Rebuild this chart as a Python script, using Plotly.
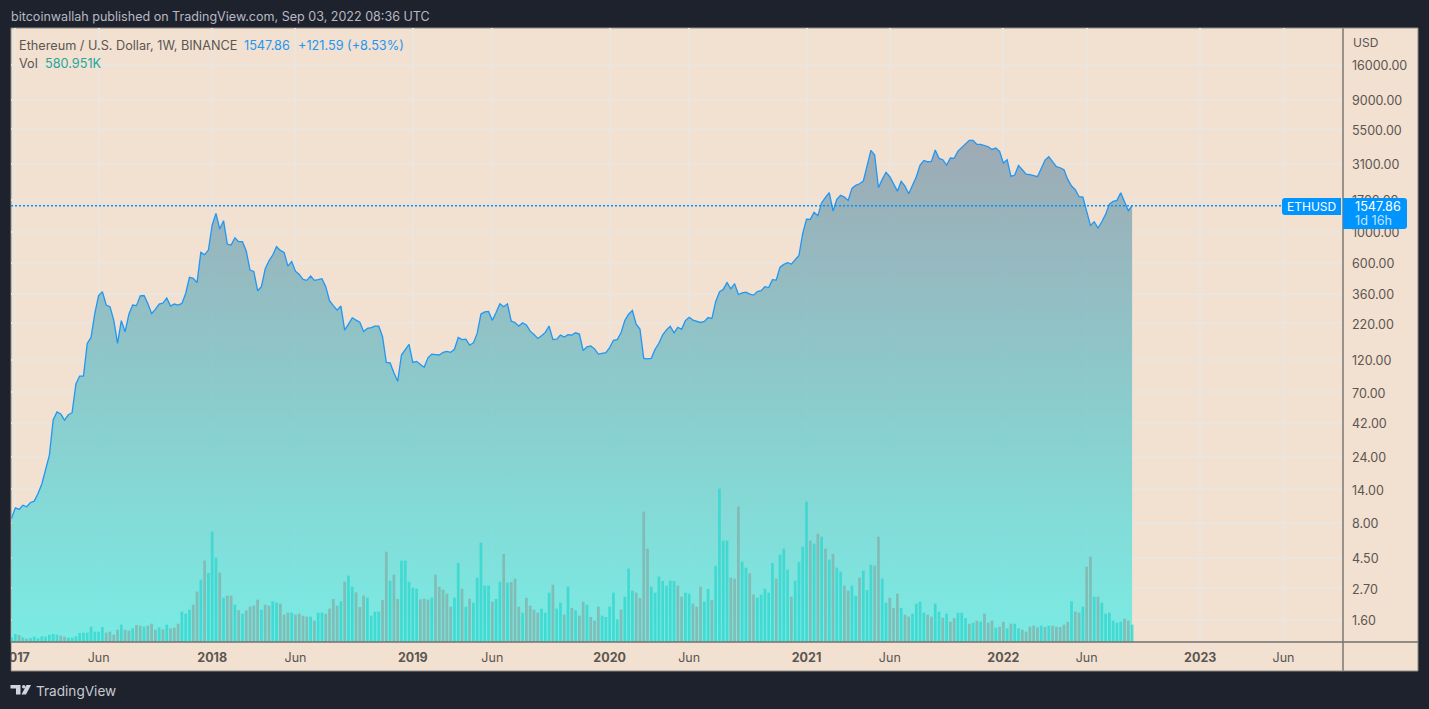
import pandas as pd
import plotly.graph_objects as go

# Weekly ETHUSD closes
close = [
    8.64, 10.3, 10.03, 10.75, 10.47, 11.25, 11.5, 13.07, 15.3, 19.3,
    24.7, 44.2, 50.5, 48.8, 44.2, 48.2, 49.9, 80.3, 91.7, 91.7,
    157.6, 174, 259, 348, 372, 298, 290, 232, 157.6, 230,
    191, 256, 298, 295, 347, 349, 306, 259, 277, 303,
    308, 335, 293, 303, 298, 306, 361, 472, 464, 432,
    714, 687, 742, 1124, 1364, 1052, 1207, 820, 806, 910,
    852, 852, 730, 532, 520, 378, 404, 541, 621, 683,
    784, 738, 714, 568, 614, 523, 495, 456, 449, 482,
    449, 454, 461, 404, 320, 295, 274, 293, 196.5, 217,
    241, 232, 224, 192, 202, 205, 210, 210, 176, 115,
    114, 97, 84, 130, 141, 155, 115, 117, 111, 106,
    124, 132, 131, 130, 136, 138, 136, 143, 174, 168,
    169, 153, 159, 186, 257, 266, 268, 231, 263, 304,
    290, 304, 228, 223, 210, 222, 214, 193, 183, 171,
    179, 189, 210, 168, 169, 181, 175, 182, 181, 188,
    184, 140, 149, 151, 144, 132, 133.5, 135, 147, 166,
    168, 188, 230, 256, 272, 217, 200, 123, 122, 123,
    143, 158, 182, 197, 209, 188, 206, 199, 230, 243,
    232, 228, 223, 227, 242, 238, 315, 371, 386, 432,
    390, 425, 355, 365, 369, 357, 351, 373, 378, 404,
    398, 454, 451, 559, 585, 601, 588, 632, 679, 978,
    1240, 1234, 1387, 1312, 1628, 1778, 1921, 1417, 1720, 1838,
    1788, 1692, 2064, 2170, 2230, 2332, 2956, 3882, 3590, 2086,
    2396, 2692, 2506, 2218, 1971, 2318, 2146, 1890, 2182, 2506,
    3040, 3284, 3212, 3230, 3900, 3396, 3322, 3040, 3415, 3396,
    3834, 4052, 4332, 4580, 4580, 4284, 4284, 4212, 4120, 3940,
    4030, 3814, 3142, 3322, 2518, 2576, 3022, 2814, 2618, 2590,
    2548, 2506, 2876, 3302, 3492, 3212, 2956, 2908, 2814, 2396,
    2146, 2018, 1798, 1788, 1409, 1117, 1187, 1069, 1187, 1341,
    1591, 1664, 1692, 1921, 1654, 1426.27, 1547.86,
]

# Weekly volume in thousands
volume = [
    156, 268, 235, 156, 112, 134, 179, 123, 190, 179,
    246, 268, 246, 212, 179, 145, 145, 190, 302, 313,
    313, 514, 346, 346, 503, 313, 346, 246, 413, 581,
    413, 380, 458, 570, 547, 514, 547, 614, 413, 491,
    424, 581, 458, 480, 614, 1016, 949, 1083, 1251, 1687,
    2089, 2725, 2312, 3697, 2826, 2323, 1486, 1553, 1553, 1251,
    1061, 949, 1061, 1184, 1218, 1419, 1083, 1251, 1218, 1363,
    1318, 1285, 916, 983, 983, 916, 949, 882, 849, 849,
    715, 983, 983, 949, 1117, 1441, 1218, 1363, 2022, 2223,
    1854, 1664, 1173, 1553, 1486, 882, 1016, 1016, 1407, 3027,
    2055, 2256, 1441, 2725, 2725, 2022, 1821, 1787, 1430, 1452,
    1419, 1486, 2256, 1854, 1754, 1620, 1184, 1486, 2647, 1787,
    1184, 1452, 1318, 2156, 3329, 1888, 1888, 1352, 1441, 2022,
    2949, 1988, 2011, 2122, 1184, 983, 1486, 1218, 1083, 983,
    1117, 983, 1653, 1921, 1117, 1318, 916, 1854, 1139, 1061,
    882, 1352, 1251, 838, 715, 1184, 882, 838, 1184, 1653,
    760, 1083, 1519, 2457, 1720, 1653, 1474, 4367, 3128, 1854,
    1653, 2189, 2044, 1888, 2055, 2044, 1888, 1519, 1653, 1620,
    1285, 1184, 1854, 1352, 1776, 1407, 2558, 5138, 3396, 3396,
    2156, 2122, 4535, 2692, 2491, 2301, 1586, 1486, 1586, 1787,
    1653, 2647, 2122, 2927, 3128, 2424, 1519, 2055, 2681, 3195,
    4703, 3396, 3295, 3630, 3530, 3128, 2759, 2949, 2491, 2357,
    1888, 1720, 1888, 1553, 2156, 2390, 1743, 2591, 2558, 3530,
    2122, 1318, 1486, 1139, 1620, 1139, 916, 849, 949, 1285,
    1352, 983, 916, 849, 1285, 1016, 815, 949, 681, 804,
    983, 983, 804, 614, 648, 715, 681, 949, 648, 715,
    480, 514, 681, 458, 614, 614, 458, 413, 346, 514,
    547, 491, 547, 503, 547, 547, 514, 503, 581, 681,
    1363, 1016, 983, 1184, 2524, 2860, 1519, 1519, 1318, 949,
    983, 715, 648, 681, 782, 715, 580.951,
]

# Bars drawn in the down colour
down_bars = [
    2, 4, 13, 14, 25, 26, 27, 28, 30, 31, 33, 34, 36, 37, 38, 40, 42, 43, 44,
    48, 49, 51, 55, 57, 58, 60, 62, 63, 64, 65, 67, 68, 71, 72, 73, 75, 76, 77,
    78, 80, 83, 84, 85, 86, 88, 91, 92, 93, 98, 99, 101, 102, 108, 109, 110,
    112, 113, 114, 115, 116, 119, 121, 127, 130, 132, 133, 134, 136, 137, 138,
    139, 143, 146, 148, 150, 151, 153, 154, 155, 161, 165, 166, 167, 168, 176,
    177, 180, 181, 182, 185, 190, 191, 192, 195, 196, 202, 206, 211, 213, 215,
    217, 220, 221, 224, 228, 229, 232, 233, 234, 236, 237, 242, 243, 246, 248,
    249, 253, 255, 257, 258, 259, 261, 262, 264, 267, 268, 269, 270, 271, 273,
    275, 276, 277, 278, 279, 281, 282, 284, 285, 287, 294, 295,
]

price_ticks = [16000, 9000, 5500, 3100, 1700, 1000, 600, 360, 220, 120, 70, 42, 24, 14, 8, 4.5, 2.7, 1.6]
time_ticks = ["2017-01-02", "2017-06-05", "2018-01-01", "2018-06-04", "2019-01-07", "2019-06-03",
              "2020-01-06", "2020-06-01", "2021-01-04", "2021-06-07", "2022-01-03", "2022-06-06",
              "2023-01-02", "2023-06-05"]
time_labels = ["<b>2017</b>", "Jun", "<b>2018</b>", "Jun", "<b>2019</b>", "Jun", "<b>2020</b>", "Jun",
               "<b>2021</b>", "Jun", "<b>2022</b>", "Jun", "<b>2023</b>", "Jun"]
last_price = 1547.86

W, H = 1429, 709
L, R, T, B = 11, 1343, 28, 642  # plot box in pixels
DARK = "#1e222d"
PANEL = "#f2e0d0"
GRID = "#ebe5df"
BLUE = "#2196f3"
TAG = "#0094ff"
TXT = "#5b5651"
FONT = "Inter"


# pixel to paper helpers, the frame and labels are placed by pixel
def px(x):
    return (x - L) / (R - L)


def py(y):
    return (B - y) / (B - T)


def pt(x, y):
    return f"{px(x):.5f},{py(y):.5f}"


def note(text, x, y, color=TXT, size=12.5, anchor="left"):
    fig.add_annotation(text=text, x=px(x), y=py(y), xref="paper", yref="paper", showarrow=False,
                       xanchor=anchor, yanchor="middle", borderpad=0, font=dict(color=color, size=size, family=FONT))


def box(x0, y0, x1, y1, fill=None, line=None, width=1, layer="below"):
    fig.add_shape(type="rect", xref="paper", yref="paper", x0=px(x0), x1=px(x1), y0=py(y0), y1=py(y1),
                  fillcolor=fill, line=dict(color=line, width=width if line else 0), layer=layer)


def poly(points, fill):
    path = "M" + " L".join(pt(x, y) for x, y in points) + " Z"
    fig.add_shape(type="path", path=path, xref="paper", yref="paper", fillcolor=fill,
                  line=dict(width=0), layer="above")


# tag with the corners on one side rounded
def tag(x0, y0, x1, y1, round_left, r=3):
    if round_left:
        path = (f"M{pt(x1, y0)} L{pt(x1, y1)} L{pt(x0 + r, y1)} Q{pt(x0, y1)} {pt(x0, y1 - r)} "
                f"L{pt(x0, y0 + r)} Q{pt(x0, y0)} {pt(x0 + r, y0)} Z")
    else:
        path = (f"M{pt(x0, y0)} L{pt(x1 - r, y0)} Q{pt(x1, y0)} {pt(x1, y0 + r)} "
                f"L{pt(x1, y1 - r)} Q{pt(x1, y1)} {pt(x1 - r, y1)} L{pt(x0, y1)} Z")
    fig.add_shape(type="path", path=path, xref="paper", yref="paper", fillcolor=TAG,
                  line=dict(width=0), layer="above")


dates = pd.date_range(end="2022-08-29", periods=len(close), freq="7D")
down = set(down_bars)
bar_colors = ["rgba(130,182,177,0.88)" if i in down else "rgba(45,214,205,0.75)" for i in range(len(volume))]

fig = go.Figure()

fig.add_trace(go.Scatter(
    x=dates, y=close, mode="lines", line=dict(color=BLUE, width=1.3),
    fill="tozeroy",
    fillgradient=dict(type="vertical", start=1.11, stop=4580,
                      colorscale=[[0, "rgba(92,238,232,0.8)"], [1, "rgba(137,156,173,0.8)"]]),
    yaxis="y", showlegend=False,
))
fig.add_trace(go.Bar(x=dates, y=volume, marker=dict(color=bar_colors, line=dict(width=0)),
                     yaxis="y2", showlegend=False))

fig.update_layout(
    width=W, height=H, autosize=False,
    margin=dict(l=L, r=W - R, t=T, b=H - B),
    paper_bgcolor=DARK, plot_bgcolor=PANEL,
    bargap=0.28,
    font=dict(family=FONT, color=TXT, size=12.5),
    xaxis=dict(type="date", range=["2016-12-25", "2023-09-23"], tickmode="array", tickvals=time_ticks,
               ticktext=time_labels, showgrid=True, gridcolor=GRID, gridwidth=1.5, zeroline=False,
               ticks="", ticklabelstandoff=6, tickfont=dict(size=12.5, color=TXT), showline=False,
               automargin=False),
    yaxis=dict(type="log", side="right", range=[0.0455, 4.4707], tickmode="array", tickvals=price_ticks,
               ticktext=[f"{v:.2f}" for v in price_ticks], showgrid=True, gridcolor=GRID, gridwidth=1.5,
               zeroline=False, ticks="", ticklabelstandoff=8, ticklabelshift=1,
               tickfont=dict(size=12.5, color=TXT), automargin=False),
    yaxis2=dict(overlaying="y", range=[0, 20575], visible=False, fixedrange=True, automargin=False),
)

# panels behind the plot box, axis rules and the frame
box(L, T, 1418, 671, fill=PANEL, line="#8f8b87", width=1)
fig.add_shape(type="line", xref="paper", yref="paper", x0=px(R), x1=px(R), y0=py(T), y1=py(671),
              line=dict(color="#9a9189", width=2), layer="above")
fig.add_shape(type="line", xref="paper", yref="paper", x0=0, x1=px(1418), y0=0, y1=0,
              line=dict(color="#73716f", width=1.5), layer="above")

# last price line and its tags
fig.add_shape(type="line", xref="paper", yref="y", x0=0, x1=1, y0=last_price, y1=last_price,
              line=dict(color=TAG, width=1.5, dash="2px,2px"), layer="above")
tag(1282, 198, 1341, 215, True)
tag(1343, 198, 1407, 229, False)
note("ETHUSD", 1311.5, 206.5, color="#ffffff", size=12, anchor="center")
note("1547.86", 1353.5, 206.5, color="#ffffff", size=12.7)
note("1d 16h", 1353.5, 220, color="#bfe2ff", size=12.7)

# hides the part of the first year label that falls left of the panel
box(0, B + 1, L - 0.5, 671, fill=DARK, layer="above")

# text block on top
note("bitcoinwallah published on TradingView.com, Sep 03, 2022 08:36 UTC", 10, 16.5, color="#b7b9c3", size=12.55)
note("Ethereum / U.S. Dollar, 1W, BINANCE", 18, 45.5, size=12.7)
note("1547.86", 242.5, 45.5, color=BLUE, size=12.7)
note("+121.59 (+8.53%)", 297, 45.5, color=BLUE, size=12.7)
note("Vol", 18, 63, size=12.7)
note("580.951K", 44, 63, color="#26a69a", size=12.7)
note("USD", 1352, 42, size=12)

# TradingView mark, bottom left
poly([(10.5, 685), (20.5, 685), (20.5, 694.5), (16, 694.5), (16, 688.5), (10.5, 688.5)], "#d1d4dc")
poly([(26.5, 685), (31, 685), (26, 694.5), (21.5, 694.5)], "#d1d4dc")
fig.add_shape(type="circle", xref="paper", yref="paper", x0=px(22), x1=px(25.5), y0=py(685), y1=py(688.5),
              fillcolor="#d1d4dc", line=dict(width=0), layer="above")
note("TradingView", 34.5, 691, color="#c8cad2", size=13.6)

fig.write_html("out.html", config=dict(displayModeBar=False),
               post_script="document.body.style.margin='0';document.body.style.background='#1e222d';")
